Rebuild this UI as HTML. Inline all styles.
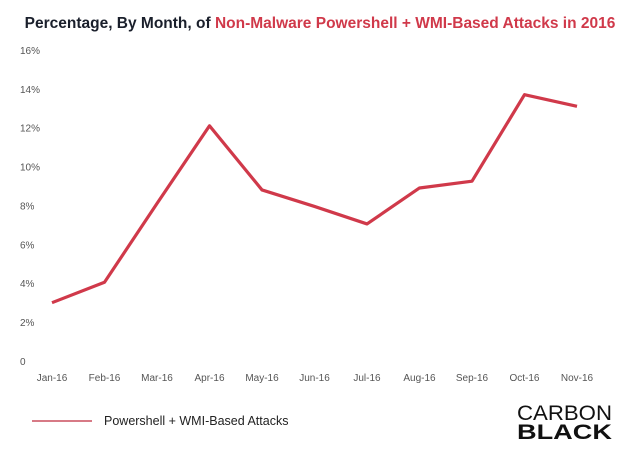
<!DOCTYPE html>
<html><head><meta charset="utf-8"><style>
body{margin:0;background:#fff;font-family:"Liberation Sans",Arial,sans-serif}
svg{display:block}
</style></head><body>
<svg width="640" height="457" id="chart">
<text x="320" y="28" text-anchor="middle" font-size="15.5" font-weight="bold" fill="#1a1f2b">Percentage, By Month, of <tspan fill="#d0394a">Non-Malware Powershell + WMI-Based Attacks in 2016</tspan></text>
<g id="yaxis"></g>
<g id="xaxis"></g>
<g id="series"></g>
<line x1="32" y1="421" x2="92" y2="421" stroke="#d77a86" stroke-width="2"/>
<text x="104" y="425" font-size="12.5" fill="#222">Powershell + WMI-Based Attacks</text>
<g>
<text x="612" y="420" text-anchor="end" font-size="21" fill="#111" textLength="95" lengthAdjust="spacingAndGlyphs">CARBON</text>
<text x="612" y="439" text-anchor="end" font-size="21" font-weight="bold" fill="#111" textLength="95" lengthAdjust="spacingAndGlyphs">BLACK</text>
</g>
</svg>
<script>
const categories=["Jan-16","Feb-16","Mar-16","Apr-16","May-16","Jun-16","Jul-16","Aug-16","Sep-16","Oct-16","Nov-16"];
const values=[3.0,4.05,8.1,12.1,8.8,7.95,7.05,8.9,9.25,13.7,13.1];
const yTicks=[0,2,4,6,8,10,12,14,16];
const yTickLabels=["0","2%","4%","6%","8%","10%","12%","14%","16%"];
const NS="http://www.w3.org/2000/svg";
function x(i){return 52+i*52.5;}
function y(v){return 361-v*19.44;}
const ya=document.getElementById('yaxis');
yTicks.forEach((t,i)=>{
 const el=document.createElementNS(NS,'text');
 
 
 el.setAttribute('x',20);el.setAttribute('y',y(t)+4);
 el.setAttribute('font-size','10');el.setAttribute('fill','#555');
 el.textContent=yTickLabels[i];ya.appendChild(el);
});
const xa=document.getElementById('xaxis');
categories.forEach((c,i)=>{
 const el=document.createElementNS(NS,'text');
 
 
 el.setAttribute('x',x(i));el.setAttribute('y',381);
 el.setAttribute('text-anchor','middle');
 el.setAttribute('font-size','10');el.setAttribute('fill','#555');
 el.textContent=c;xa.appendChild(el);
});
const p=document.createElementNS(NS,'polyline');


p.setAttribute('points',values.map((v,i)=>x(i)+','+y(v)).join(' '));
p.setAttribute('fill','none');p.setAttribute('stroke','#d0394a');
p.setAttribute('stroke-width','3.2');p.setAttribute('stroke-linejoin','round');
document.getElementById('series').appendChild(p);
</script>
</body></html>
